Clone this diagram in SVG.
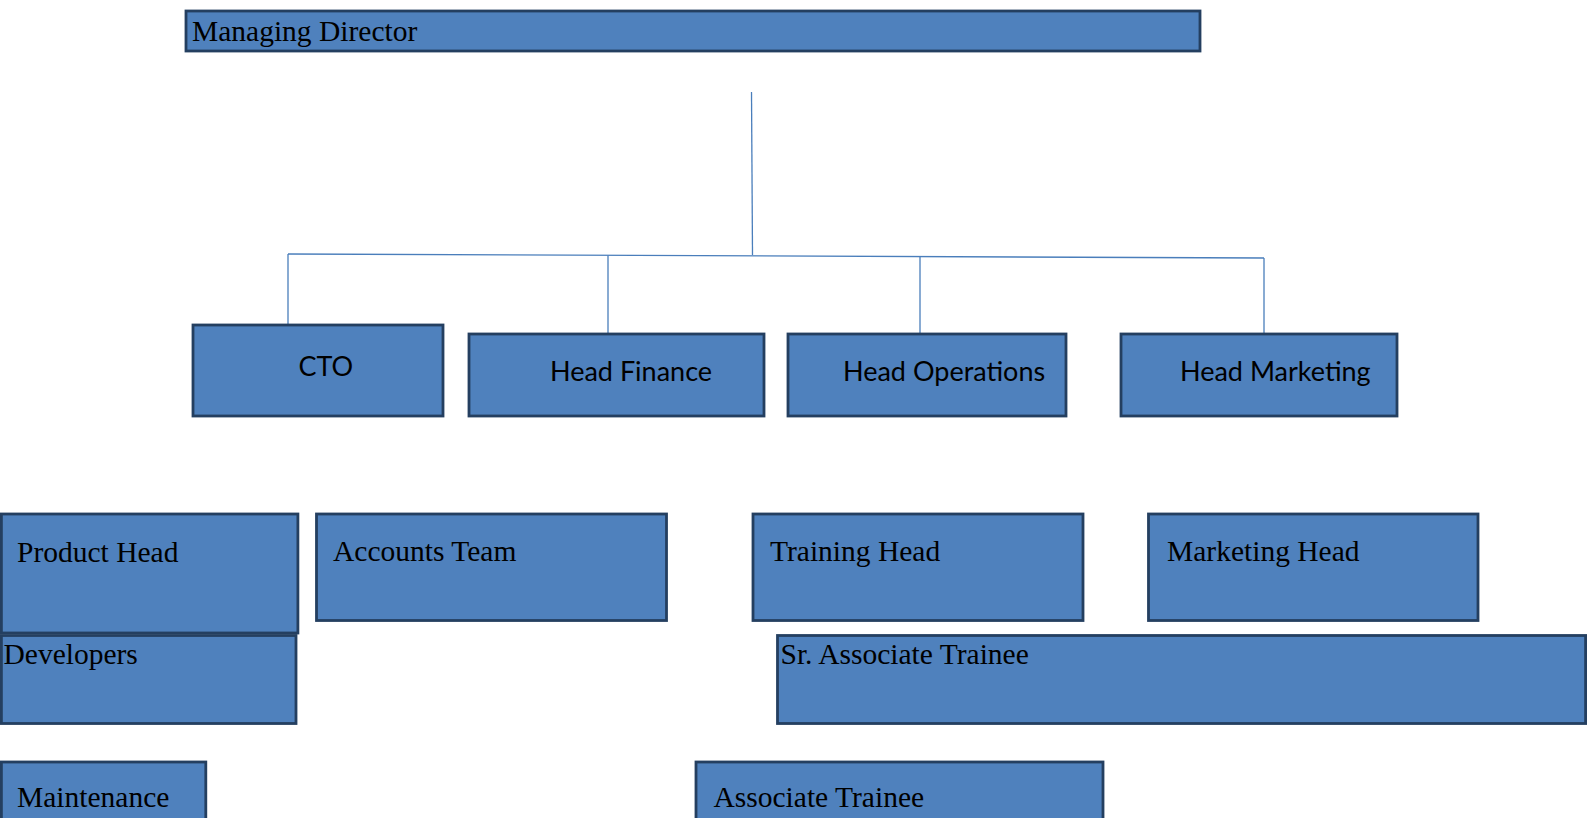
<svg xmlns="http://www.w3.org/2000/svg" width="1587" height="818" viewBox="0 0 1587 818">
<style>
.box{fill:#4F81BD;stroke:#243F60;stroke-width:2.8}
.serif{font-family:"Liberation Serif","Times New Roman",serif;font-size:29.5px;fill:#000}
.sans{font-family:Lato,"Open Sans",sans-serif;font-size:27px;fill:#000}
.conn{fill:none;stroke:#4A7EBB;stroke-width:1.3}
</style>
<rect x="0" y="0" width="1587" height="818" fill="#FFFFFF"/>
<g id="connectors">
<path class="conn" d="M751.5,92 L752.5,255"/>
<path class="conn" d="M288,254 L1264,258"/>
<path class="conn" d="M288,254 L288,325"/>
<path class="conn" d="M608,255.5 L608,334"/>
<path class="conn" d="M920,257 L920,334"/>
<path class="conn" d="M1264,258 L1264,334"/>
</g>
<g id="managing-director">
<rect class="box" x="186" y="11" width="1014" height="40"/>
<text class="serif" x="192" y="40.5">Managing Director</text>
</g>
<g id="cto">
<rect class="box" x="193" y="325" width="250" height="91"/>
<text class="sans" x="298.5" y="376">CTO</text>
</g>
<g id="head-finance">
<rect class="box" x="469" y="334" width="295" height="82"/>
<text class="sans" x="550" y="380.5">Head Finance</text>
</g>
<g id="head-operations">
<rect class="box" x="788" y="334" width="278" height="82"/>
<text class="sans" x="843" y="380.5">Head Operations</text>
</g>
<g id="head-marketing">
<rect class="box" x="1121" y="334" width="276" height="82"/>
<text class="sans" x="1180" y="380.5">Head Marketing</text>
</g>
<g id="product-head">
<rect class="box" x="1.4" y="514" width="296.5" height="119"/>
<text class="serif" x="17" y="562">Product Head</text>
</g>
<g id="accounts-team">
<rect class="box" x="316.5" y="514" width="350" height="106.5"/>
<text class="serif" x="333" y="560.5">Accounts Team</text>
</g>
<g id="training-head">
<rect class="box" x="753" y="514" width="330" height="106.5"/>
<text class="serif" x="770" y="560.5">Training Head</text>
</g>
<g id="marketing-head">
<rect class="box" x="1148.5" y="514" width="329.5" height="106.5"/>
<text class="serif" x="1167" y="560.5">Marketing Head</text>
</g>
<g id="developers">
<rect class="box" x="1.4" y="635.5" width="294.6" height="88"/>
<text class="serif" x="3.5" y="663.5">Developers</text>
</g>
<g id="sr-associate-trainee">
<rect class="box" x="777.5" y="635.5" width="808.1" height="88"/>
<text class="serif" x="780.5" y="663.5">Sr. Associate Trainee</text>
</g>
<g id="maintenance">
<rect class="box" x="1.4" y="762" width="204.4" height="70"/>
<text class="serif" x="17" y="807">Maintenance</text>
</g>
<g id="associate-trainee">
<rect class="box" x="696" y="762" width="407" height="70"/>
<text class="serif" x="713.5" y="807">Associate Trainee</text>
</g>
</svg>
